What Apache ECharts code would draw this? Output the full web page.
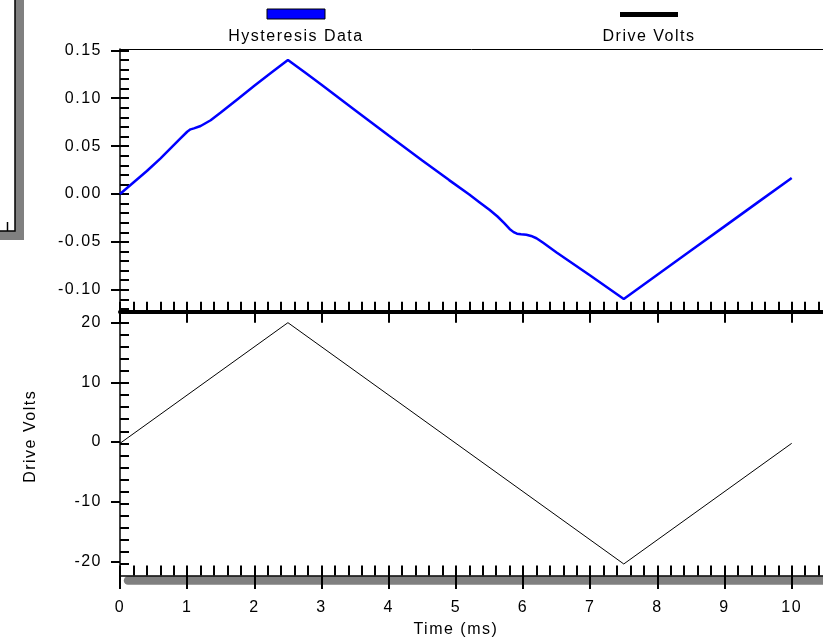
<!DOCTYPE html>
<html>
<head>
<meta charset="utf-8">
<script src="https://cdn.jsdelivr.net/npm/echarts@6/dist/echarts.min.js"></script>
<style>
  html, body { margin: 0; padding: 0; background: #ffffff; }
  #chart { width: 823px; height: 639px; }
</style>
</head>
<body>
<div id="chart"></div>
<script>
// Hysteresis response (time in ms, value in arbitrary units)
const hysteresisTime = [0, 0.2, 0.4, 0.6, 0.8, 0.9, 1.0, 1.05, 1.1, 1.2, 1.35, 1.5, 1.75, 2.0, 2.25, 2.5,
  2.75, 3.0, 3.5, 4.0, 4.5, 4.9, 5.2, 5.35, 5.5, 5.62, 5.72, 5.8, 5.86, 5.91, 5.97, 6.05, 6.12, 6.2, 6.3, 6.5, 7.0, 7.5,
  8.0, 8.5, 9.0, 9.5, 10.0];
const hysteresisValues = [0.000, 0.012, 0.024, 0.037, 0.051, 0.058, 0.065, 0.0675, 0.0685, 0.071, 0.077, 0.085, 0.099, 0.113, 0.1265, 0.140,
  0.127, 0.114, 0.0875, 0.061, 0.035, 0.0145, -0.0005, -0.0085, -0.0165, -0.0235, -0.0305, -0.0365, -0.0398, -0.0414, -0.042, -0.0425, -0.0438, -0.0462, -0.051, -0.061, -0.0852, -0.1096,
  -0.0843, -0.059, -0.0338, -0.0085, 0.0167];

// Triangular drive waveform
const driveTime = [0, 2.5, 7.5, 10];
const driveVolts = [0, 20, -20, 0];

const seriesNames = ['Hysteresis Data', 'Drive Volts'];
const seriesColors = ['#0000ff', '#000000'];

// Tick labels
const timeTicks = [0, 1, 2, 3, 4, 5, 6, 7, 8, 9, 10];
const hystTicks = [-0.10, -0.05, 0.00, 0.05, 0.10, 0.15];
const voltTicks = [-20, -10, 0, 10, 20];

// Axis ranges
const timeMax = 10.466;
const hystMin = -0.1229, hystMax = 0.1514;
const voltMin = -21.91, voltMax = 21.82;

// Minor tick positions
const timeMinor = [];
for (let i = 0; i <= 52; i++) timeMinor.push(+(i * 0.2).toFixed(1));
const hystMinor = [];
for (let i = -12; i <= 15; i++) hystMinor.push(i / 100);
const voltMinor = [];
for (let v = -20; v <= 20; v += 2) voltMinor.push(v);

const FONT = '"Liberation Sans", Arial, sans-serif';
const txt = { color: '#000', fontFamily: FONT, fontSize: 16 };

const pairs = (xs, ys) => xs.map((x, i) => [x, ys[i]]);
const noSplit = { show: false };

const option = {
  backgroundColor: '#ffffff',
  animation: false,
  grid: [
    { left: 120, top: 49, width: 703, height: 262.7 },     // 0: upper plot
    { left: 120, top: 311.7, width: 703, height: 263.8 },  // 1: lower plot
    { left: 120, top: 311.7, width: 671.7, height: 263.8 },// 2: lower labels
    { left: 120, top: 49, width: 703, height: 262.7 },     // 3: upper labels
    { left: 128, top: 311.7, width: 695, height: 263.8 }   // 4: axis shadow
  ],
  xAxis: [
    { // divider below upper plot
      type: 'value', gridIndex: 0, position: 'bottom', min: 0, max: timeMax, z: 1,
      axisLine: { onZero: false, lineStyle: { color: '#000', width: 4 } },
      axisTick: { inside: true, length: 10, customValues: timeMinor, lineStyle: { color: '#000', width: 2 } },
      axisLabel: { show: false }, splitLine: noSplit
    },
    { // frame line above upper plot
      type: 'value', gridIndex: 0, position: 'top', min: 0, max: timeMax, z: 1,
      axisLine: { onZero: false, lineStyle: { color: '#000', width: 1 } },
      axisTick: { show: false }, axisLabel: { show: false }, splitLine: noSplit
    },
    { // major ticks hanging from the divider
      type: 'value', gridIndex: 1, position: 'top', min: 0, max: timeMax, z: 1,
      axisLine: { show: false, onZero: false },
      axisTick: { inside: true, length: 11, customValues: timeTicks, lineStyle: { color: '#000', width: 2 } },
      axisLabel: { show: false }, splitLine: noSplit
    },
    { // bottom time axis with minor ticks
      type: 'value', gridIndex: 1, position: 'bottom', min: 0, max: timeMax, z: 1,
      axisLine: { onZero: false, lineStyle: { color: '#000', width: 1.7 } },
      axisTick: { inside: true, length: 10, customValues: timeMinor, lineStyle: { color: '#000', width: 2 } },
      axisLabel: { show: false }, splitLine: noSplit
    },
    { // bottom time axis labels and major ticks
      type: 'value', gridIndex: 2, position: 'bottom', min: 0, max: 10, z: 3,
      axisLine: { show: false, onZero: false },
      axisTick: { inside: false, length: 16, customValues: timeTicks, lineStyle: { color: '#000', width: 2 } },
      axisLabel: { customValues: timeTicks, margin: 27, ...txt },
      name: 'Time (ms)', nameLocation: 'middle', nameGap: 49, nameTextStyle: txt,
      splitLine: noSplit
    },
    {
      type: 'value', gridIndex: 3, min: 0, max: timeMax, show: false
    },
    { // shadow band under the time axis
      type: 'value', gridIndex: 4, position: 'bottom', min: 0, max: timeMax, offset: 4.4, z: 0,
      axisLine: { onZero: false, lineStyle: { color: '#808080', width: 8.5 } },
      axisTick: { show: false }, axisLabel: { show: false }, splitLine: noSplit
    }
  ],
  yAxis: [
    { // upper plot axis with minor ticks
      type: 'value', gridIndex: 0, position: 'left', min: hystMin, max: hystMax, z: 1,
      axisLine: { onZero: false, lineStyle: { color: '#000', width: 1.5 } },
      axisTick: { inside: true, length: 9, customValues: hystMinor, lineStyle: { color: '#000', width: 2 } },
      axisLabel: { show: false }, splitLine: noSplit
    },
    { // upper plot labels
      type: 'value', gridIndex: 3, position: 'left', min: hystMin, max: hystMax, z: 1,
      axisLine: { show: false, onZero: false },
      axisTick: { inside: false, length: 9, customValues: hystTicks, lineStyle: { color: '#000', width: 2 } },
      axisLabel: { customValues: hystTicks, margin: 18, formatter: v => v.toFixed(2), ...txt },
      splitLine: noSplit
    },
    { // lower plot axis with minor ticks
      type: 'value', gridIndex: 1, position: 'left', min: voltMin, max: voltMax, z: 1,
      axisLine: { onZero: false, lineStyle: { color: '#000', width: 1.5 } },
      axisTick: { inside: true, length: 9, customValues: voltMinor, lineStyle: { color: '#000', width: 2 } },
      axisLabel: { show: false }, splitLine: noSplit
    },
    { // lower plot labels
      type: 'value', gridIndex: 2, position: 'left', min: voltMin, max: voltMax, z: 1,
      axisLine: { show: false, onZero: false },
      axisTick: { inside: false, length: 9, customValues: voltTicks, lineStyle: { color: '#000', width: 2 } },
      axisLabel: { customValues: voltTicks, margin: 18, ...txt },
      name: 'Drive Volts', nameLocation: 'middle', nameGap: 81,
      nameTextStyle: { ...txt, padding: [0, 0, 0, 12] },
      splitLine: noSplit
    },
    {
      type: 'value', gridIndex: 4, min: voltMin, max: voltMax, show: false
    }
  ],
  series: [
    {
      name: seriesNames[0], type: 'line', xAxisIndex: 0, yAxisIndex: 0,
      data: pairs(hysteresisTime, hysteresisValues),
      showSymbol: false, symbol: 'none',
      lineStyle: { color: seriesColors[0], width: 2.5 }
    },
    {
      name: seriesNames[1], type: 'line', xAxisIndex: 3, yAxisIndex: 2,
      data: pairs(driveTime, driveVolts),
      showSymbol: false, symbol: 'none',
      lineStyle: { color: seriesColors[1], width: 1 }
    }
  ],
  graphic: [
    // legend swatches and names
    { type: 'rect', shape: { x: 267, y: 9, width: 58, height: 10 },
      style: { fill: seriesColors[0], stroke: '#000', lineWidth: 1 } },
    { type: 'text', x: 296, y: 37,
      style: { text: seriesNames[0], font: '16px ' + FONT, fill: '#000', textAlign: 'center', textVerticalAlign: 'middle' } },
    { type: 'rect', shape: { x: 620, y: 12, width: 58, height: 5 },
      style: { fill: seriesColors[1] } },
    { type: 'text', x: 649, y: 37,
      style: { text: seriesNames[1], font: '16px ' + FONT, fill: '#000', textAlign: 'center', textVerticalAlign: 'middle' } },
    // corner of a shadowed box at the upper left
    { type: 'rect', shape: { x: 15, y: 0, width: 9, height: 240 }, style: { fill: '#808080' } },
    { type: 'rect', shape: { x: 0, y: 231, width: 24, height: 9 }, style: { fill: '#808080' } },
    { type: 'polyline', shape: { points: [[15, 0], [15, 231], [0, 231]] },
      style: { stroke: '#000', lineWidth: 1.5, fill: null } },
    { type: 'line', shape: { x1: 7.5, y1: 222, x2: 7.5, y2: 231 }, style: { stroke: '#000', lineWidth: 1.5 } }
  ]
};

const dom = document.getElementById('chart');
const chart = echarts.init(dom, null, { renderer: 'canvas' });
chart.setOption(option);

// widen the text tracking on the drawing surface, then redraw
const canvas = dom.querySelector('canvas');
if (canvas) {
  const ctx = canvas.getContext('2d');
  if ('letterSpacing' in ctx) {
    ctx.letterSpacing = '1.5px';
    chart.clear();
    chart.setOption(option);
  }
}
</script>
</body>
</html>
